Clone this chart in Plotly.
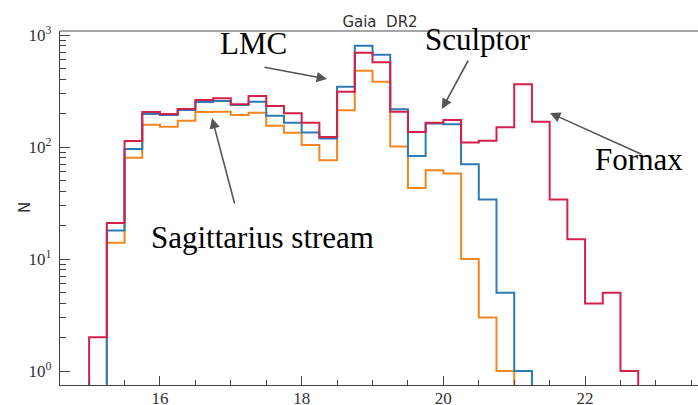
import plotly.graph_objects as go

# Magnitude bin edges (G mag, 0.25 mag bins)
mag_edges = [15.0, 15.25, 15.5, 15.75, 16.0, 16.25, 16.5, 16.75, 17.0, 17.25,
             17.5, 17.75, 18.0, 18.25, 18.5, 18.75, 19.0, 19.25, 19.5, 19.75,
             20.0, 20.25, 20.5, 20.75, 21.0, 21.25, 21.5, 21.75, 22.0, 22.25,
             22.5, 22.75]

# Star counts per bin (0 = empty bin)
n_full = [2, 21, 113, 205, 197, 218, 263, 272, 241, 285,
          232, 200, 165, 123, 312, 695, 571, 207, 136, 165,
          174, 110, 114, 150, 363, 168, 34, 15, 4, 5, 1]
n_mid = [0, 18, 96, 197, 193, 214, 252, 257, 237, 254,
         190, 165, 135, 119, 345, 802, 667, 217, 83, 162,
         160, 70, 34, 5, 1, 0, 0, 0, 0, 0, 0]
n_bright = [0, 14, 80, 158, 152, 172, 205, 207, 193, 202,
            155, 134, 104, 76, 213, 480, 383, 101, 43, 62,
            58, 10, 3, 1, 0, 0, 0, 0, 0, 0, 0]

x_ticks = [16, 18, 20, 22]
y_ticks = [1, 10, 100, 1000]
y_ticktext = ["10<sup>0</sup>", "10<sup>1</sup>", "10<sup>2</sup>", "10<sup>3</sup>"]
y_minor = [m * d for d in (1, 10, 100) for m in range(2, 10)]

FLOOR = 1e-3  # empty bins drop below the log axis


def step_xy(edges, counts):
    """Outline of a step histogram for an hv-shaped line."""
    ys = [c if c > 0 else FLOOR for c in counts]
    x = [edges[0]] + list(edges[:len(counts)]) + [edges[len(counts)]]
    y = [FLOOR] + ys + [FLOOR]
    return x, y


fig = go.Figure()
for counts, color in [(n_bright, "#f5861f"), (n_mid, "#2c7bb2"), (n_full, "#d5204c")]:
    x, y = step_xy(mag_edges, counts)
    fig.add_trace(go.Scatter(x=x, y=y, mode="lines", line_shape="hv",
                             line=dict(color=color, width=2), showlegend=False,
                             hoverinfo="skip"))

L, R, T, B = 60, 0, 31, 20
W, H = 698, 405
pw, ph = W - L - R, H - T - B


def px(xp):
    return (xp - L) / pw


def py(yp):
    return (H - B - yp) / ph


fig.update_layout(
    width=W, height=H,
    margin=dict(l=L, r=R, t=T, b=B, autoexpand=False),
    paper_bgcolor="white", plot_bgcolor="white",
    title=dict(text="Gaia  DR2", x=px(380), xref="paper", xanchor="center",
               y=1 - 22 / H, yref="container", yanchor="middle",
               font=dict(family="DejaVu Sans", size=15, color="#333")),
    xaxis=dict(range=[14.589, 23.594], showgrid=False, zeroline=False,
               showline=True, linecolor="#444", linewidth=1.3,
               tickvals=x_ticks, ticks="inside", ticklen=9, tickwidth=1.3,
               tickcolor="#444", ticklabelstandoff=-3,
               tickfont=dict(family="Liberation Serif", size=17, color="#333"),
               minor=dict(dtick=0.5, ticks="inside", ticklen=5, tickwidth=1.1,
                          tickcolor="#444", showgrid=False)),
    yaxis=dict(type="log", range=[-0.125, 3.036], showgrid=False, zeroline=False,
               showline=True, linecolor="#444", linewidth=1.3,
               tickvals=y_ticks, ticktext=y_ticktext,
               ticks="inside", ticklen=10, tickwidth=1.3, tickcolor="#444",
               ticklabelstandoff=4,
               tickfont=dict(family="Liberation Serif", size=17, color="#333"),
               minor=dict(tickvals=y_minor, ticks="inside", ticklen=6,
                          tickwidth=1.1, tickcolor="#444", showgrid=False)),
    shapes=[dict(type="line", xref="paper", yref="paper", x0=0, x1=1, y0=1, y1=1,
                 line=dict(color="#888", width=1.5))],
)

# Y-axis label
fig.add_annotation(text="N", xref="paper", yref="paper", x=px(14), y=py(208),
                   showarrow=False, textangle=-90,
                   font=dict(family="DejaVu Sans", size=15, color="#333"))

# Object labels
labels = [("LMC", 253, 43), ("Sculptor", 478, 39), ("Fornax", 639, 159),
          ("Sagittarius stream", 262, 237)]
for text, xc, yc in labels:
    fig.add_annotation(text=text, xref="paper", yref="paper", x=px(xc), y=py(yc),
                       xanchor="center", yanchor="middle", showarrow=False,
                       font=dict(family="Liberation Serif", size=31, color="black"))

# Arrows: (tail, head) in pixels
arrows = [((263, 67), (327, 79)), ((469, 59), (442, 109)),
          ((643, 155), (550, 113)), ((235, 205), (212, 118))]
for (tx, ty), (hx, hy) in arrows:
    fig.add_annotation(text="", xref="paper", yref="paper", x=px(hx), y=py(hy),
                       ax=tx - hx, ay=ty - hy, axref="pixel", ayref="pixel",
                       showarrow=True, arrowhead=2, arrowsize=1.3, arrowwidth=1.6,
                       arrowcolor="#555", standoff=0, startstandoff=0)

fig.write_html("out.html")
